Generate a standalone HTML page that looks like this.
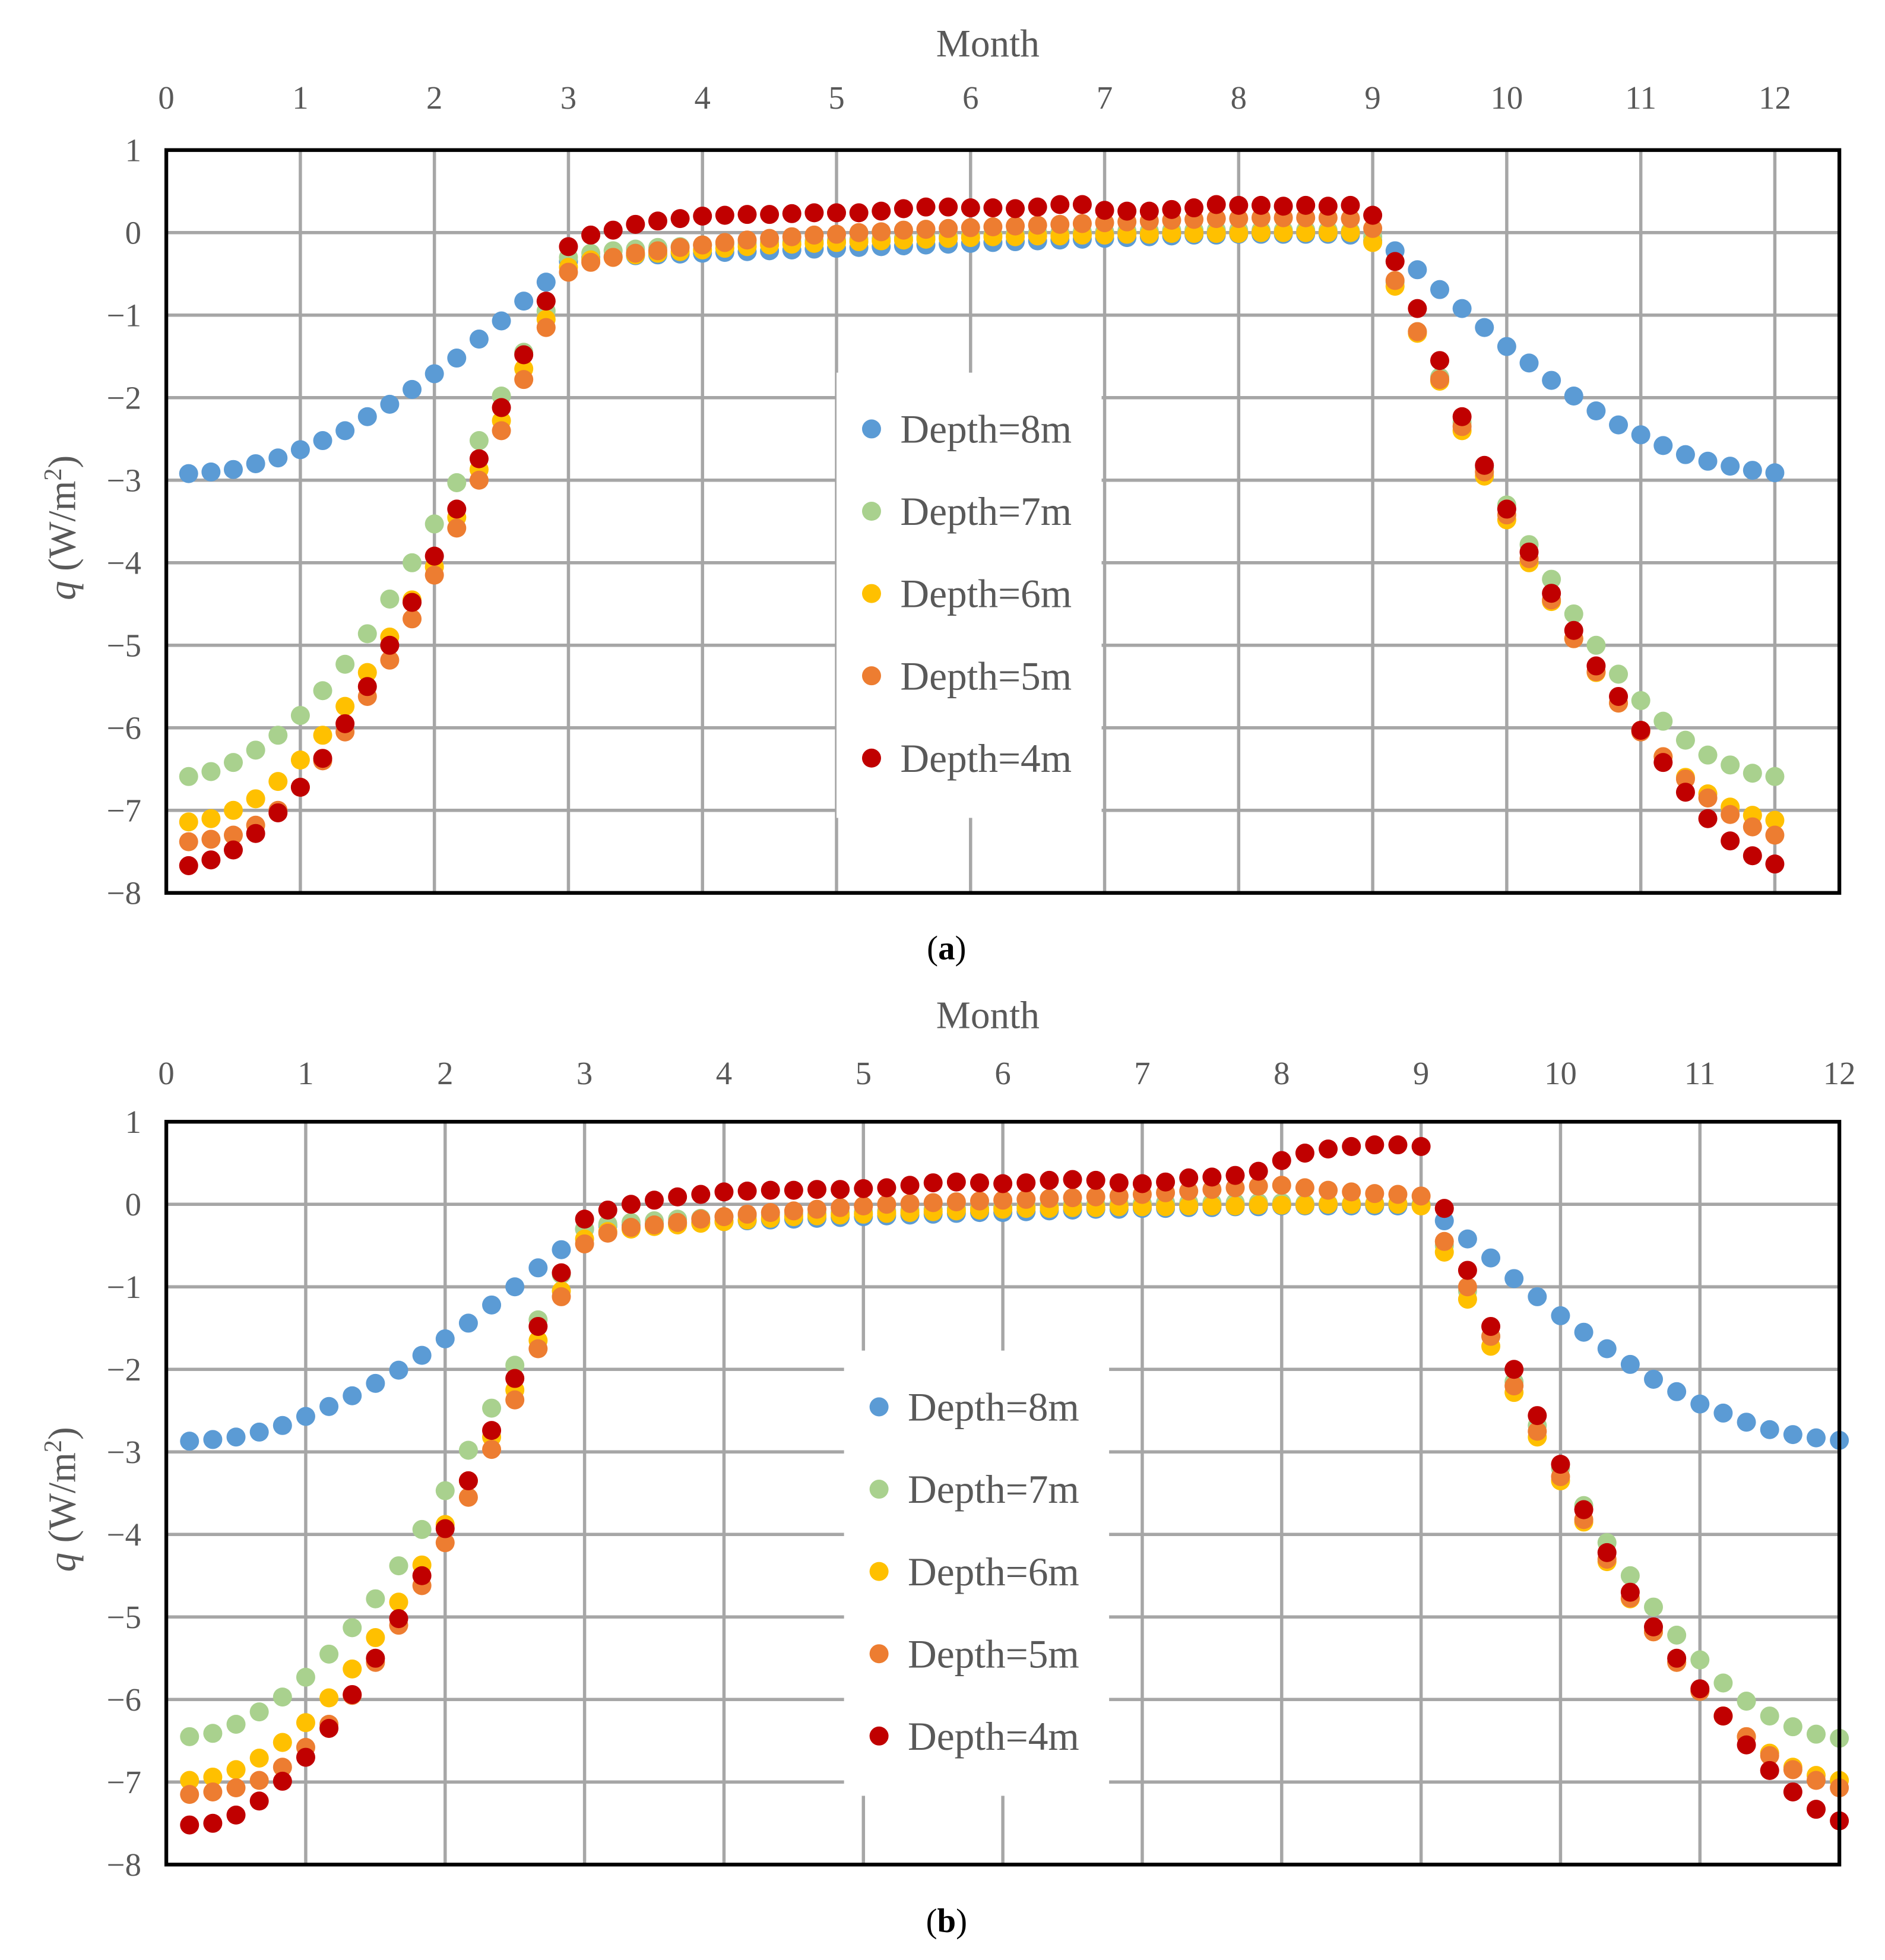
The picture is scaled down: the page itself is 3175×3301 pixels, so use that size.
<!DOCTYPE html>
<html><head><meta charset="utf-8"><style>
html,body{margin:0;padding:0;background:#fff;}
svg{display:block;}
text{font-family:"Liberation Serif",serif;}
</style></head><body>
<svg id="root" xmlns="http://www.w3.org/2000/svg" width="3175" height="3301" viewBox="0 0 1507.5 1567.3" preserveAspectRatio="none">
<rect x="0" y="0" width="1507.5" height="1567.3" fill="#fff"/>
<g id="chartA"></g>
<g id="chartB"></g>
<text x="757" y="767" font-size="27" text-anchor="middle" fill="#000">(<tspan font-weight="bold">a</tspan>)</text>
<text x="757" y="1545" font-size="27" text-anchor="middle" fill="#000">(<tspan font-weight="bold">b</tspan>)</text>
</svg>
<script>
const seriesNames = ["Depth=8m","Depth=7m","Depth=6m","Depth=5m","Depth=4m"];
const seriesColors = ["#5b9bd5","#a9d18e","#ffc000","#ed7d31","#c00000"];
const xTicks = [0,1,2,3,4,5,6,7,8,9,10,11,12];
const yTicks = [1,0,-1,-2,-3,-4,-5,-6,-7,-8];
const monthStep = 1/6;

const a8 = [-2.92,-2.9,-2.87,-2.8,-2.73,-2.63,-2.52,-2.4,-2.23,-2.08,-1.9,-1.71,-1.52,-1.29,-1.07,-0.83,-0.6,-0.35,
-0.3,-0.29,-0.28,-0.27,-0.26,-0.25,-0.24,-0.23,-0.22,-0.21,-0.2,-0.19,-0.18,-0.17,-0.16,-0.15,-0.14,-0.13,-0.12,-0.11,-0.1,-0.09,-0.08,-0.07,-0.06,-0.05,-0.04,-0.03,-0.03,-0.02,-0.02,-0.02,-0.02,-0.02,-0.03,-0.1,
-0.22,-0.45,-0.69,-0.92,-1.15,-1.38,-1.58,-1.79,-1.98,-2.16,-2.33,-2.45,-2.58,-2.69,-2.77,-2.83,-2.88,-2.91];
const a7 = [-6.59,-6.53,-6.42,-6.27,-6.09,-5.85,-5.55,-5.23,-4.86,-4.44,-4.0,-3.53,-3.03,-2.52,-1.98,-1.45,-0.95,-0.3,
-0.25,-0.22,-0.2,-0.18,-0.17,-0.15,-0.14,-0.13,-0.12,-0.11,-0.1,-0.09,-0.08,-0.07,-0.06,-0.05,-0.04,-0.03,-0.02,-0.01,0,0,0.01,0.01,0.02,0.02,0.03,0.03,0.03,0.03,0.03,0.03,0.03,0.03,0.02,-0.05,
-0.6,-1.2,-1.75,-2.3,-2.85,-3.3,-3.78,-4.2,-4.62,-5.0,-5.35,-5.67,-5.92,-6.15,-6.33,-6.45,-6.55,-6.59];
const a6 = [-7.14,-7.1,-7.0,-6.86,-6.65,-6.39,-6.09,-5.74,-5.33,-4.9,-4.45,-4.05,-3.45,-2.87,-2.28,-1.65,-1.05,-0.42,
-0.33,-0.3,-0.27,-0.25,-0.23,-0.21,-0.19,-0.17,-0.15,-0.14,-0.13,-0.12,-0.11,-0.1,-0.09,-0.08,-0.07,-0.06,-0.05,-0.05,-0.04,-0.04,-0.03,-0.03,-0.02,-0.02,-0.01,-0.01,-0.01,-0.01,0,0,0,0,0,-0.12,
-0.65,-1.22,-1.8,-2.4,-2.95,-3.48,-4.0,-4.47,-4.92,-5.33,-5.7,-6.03,-6.35,-6.6,-6.8,-6.96,-7.06,-7.12];
const a5 = [-7.38,-7.35,-7.3,-7.18,-7.0,-6.72,-6.4,-6.05,-5.62,-5.18,-4.68,-4.15,-3.58,-3.0,-2.4,-1.78,-1.15,-0.48,
-0.36,-0.3,-0.25,-0.22,-0.18,-0.15,-0.12,-0.09,-0.07,-0.05,-0.03,-0.02,0,0.01,0.03,0.04,0.05,0.06,0.07,0.08,0.09,0.1,0.11,0.12,0.13,0.14,0.15,0.16,0.17,0.17,0.18,0.18,0.18,0.18,0.17,0.05,
-0.58,-1.2,-1.78,-2.35,-2.9,-3.42,-3.95,-4.45,-4.92,-5.32,-5.7,-6.05,-6.35,-6.62,-6.85,-7.05,-7.2,-7.3];
const a4 = [-7.67,-7.6,-7.48,-7.28,-7.03,-6.72,-6.37,-5.95,-5.5,-5.0,-4.48,-3.92,-3.35,-2.74,-2.12,-1.48,-0.83,-0.17,
-0.03,0.03,0.1,0.14,0.17,0.2,0.21,0.22,0.22,0.23,0.24,0.24,0.24,0.26,0.29,0.31,0.31,0.3,0.3,0.29,0.31,0.34,0.34,0.27,0.26,0.26,0.28,0.3,0.34,0.33,0.33,0.32,0.33,0.32,0.33,0.21,
-0.35,-0.92,-1.55,-2.23,-2.82,-3.35,-3.87,-4.37,-4.82,-5.25,-5.62,-6.03,-6.42,-6.78,-7.1,-7.37,-7.55,-7.65];

const b8 = [-2.87,-2.85,-2.82,-2.76,-2.68,-2.57,-2.45,-2.32,-2.17,-2.01,-1.83,-1.63,-1.44,-1.22,-1.0,-0.77,-0.55,-0.3,
-0.26,-0.25,-0.24,-0.23,-0.22,-0.21,-0.2,-0.19,-0.18,-0.17,-0.16,-0.15,-0.14,-0.13,-0.12,-0.11,-0.1,-0.1,-0.09,-0.08,-0.07,-0.06,-0.06,-0.05,-0.05,-0.04,-0.04,-0.03,-0.03,-0.02,-0.02,-0.02,-0.02,-0.02,-0.02,0,
-0.2,-0.42,-0.65,-0.9,-1.12,-1.35,-1.55,-1.75,-1.94,-2.12,-2.27,-2.42,-2.53,-2.64,-2.73,-2.79,-2.83,-2.86];
const b7 = [-6.45,-6.41,-6.3,-6.15,-5.97,-5.73,-5.45,-5.13,-4.78,-4.38,-3.94,-3.47,-2.98,-2.47,-1.95,-1.4,-0.85,-0.3,
-0.24,-0.22,-0.2,-0.18,-0.17,-0.15,-0.14,-0.13,-0.12,-0.11,-0.1,-0.09,-0.08,-0.07,-0.06,-0.05,-0.04,-0.03,-0.02,-0.01,0,0,0.01,0.01,0.02,0.02,0.02,0.02,0.02,0.02,0.01,0.01,0.01,0.01,0.01,0,
-0.5,-1.05,-1.6,-2.15,-2.68,-3.2,-3.65,-4.1,-4.5,-4.88,-5.22,-5.52,-5.8,-6.02,-6.2,-6.33,-6.42,-6.47];
const b6 = [-6.98,-6.94,-6.85,-6.71,-6.52,-6.28,-5.98,-5.63,-5.25,-4.82,-4.37,-3.88,-3.35,-2.82,-2.25,-1.65,-1.05,-0.42,
-0.33,-0.3,-0.27,-0.25,-0.23,-0.21,-0.19,-0.17,-0.15,-0.14,-0.13,-0.12,-0.11,-0.1,-0.09,-0.08,-0.07,-0.06,-0.05,-0.05,-0.04,-0.04,-0.03,-0.03,-0.03,-0.02,-0.02,-0.02,-0.01,-0.01,-0.01,0,0,0,0,-0.02,
-0.58,-1.15,-1.72,-2.28,-2.82,-3.35,-3.85,-4.33,-4.78,-5.18,-5.55,-5.9,-6.2,-6.45,-6.65,-6.82,-6.92,-6.98];
const b5 = [-7.15,-7.12,-7.07,-6.98,-6.82,-6.58,-6.3,-5.95,-5.55,-5.1,-4.62,-4.1,-3.55,-2.97,-2.37,-1.75,-1.12,-0.48,
-0.35,-0.28,-0.25,-0.22,-0.18,-0.15,-0.12,-0.1,-0.08,-0.06,-0.04,-0.02,0,0.01,0.02,0.03,0.04,0.05,0.06,0.07,0.08,0.09,0.1,0.12,0.14,0.16,0.18,0.2,0.22,0.23,0.2,0.17,0.15,0.13,0.12,0.1,
-0.45,-1.0,-1.6,-2.2,-2.75,-3.3,-3.82,-4.3,-4.77,-5.18,-5.55,-5.9,-6.2,-6.45,-6.68,-6.85,-6.98,-7.07];
const b4 = [-7.52,-7.5,-7.4,-7.23,-6.99,-6.7,-6.35,-5.94,-5.5,-5.02,-4.5,-3.93,-3.35,-2.74,-2.11,-1.48,-0.83,-0.18,
-0.07,0.0,0.05,0.09,0.12,0.15,0.16,0.17,0.17,0.18,0.18,0.19,0.2,0.23,0.26,0.27,0.26,0.25,0.26,0.29,0.3,0.29,0.26,0.25,0.27,0.32,0.33,0.35,0.4,0.53,0.62,0.67,0.7,0.72,0.72,0.7,
-0.05,-0.8,-1.48,-2.0,-2.56,-3.15,-3.7,-4.22,-4.7,-5.12,-5.5,-5.87,-6.2,-6.55,-6.86,-7.12,-7.33,-7.47];

const NS = "http://www.w3.org/2000/svg";
function mk(parent, tag, attrs, text){
  const el = document.createElementNS(NS, tag);
  for (const k in attrs) el.setAttribute(k, attrs[k]);
  if (text !== undefined) el.textContent = text;
  parent.appendChild(el);
  return el;
}

function drawChart(g, cfg, series){
  const L=133, R=1471, T=cfg.top, B=cfg.top+594;
  const xs = m => L + m*cfg.pxPerMonth;
  const ys = v => T + (1 - v)*(B-T)/9;
  for (const t of xTicks){
    if (t===0) continue;
    const x = xs(t); if (x>=R) continue;
    const gl = mk(g,'line',{x1:x,y1:T,x2:x,y2:B,stroke:'#a6a6a6','stroke-width':2.6});
    
    
  }
  for (const t of yTicks){
    if (t===1 || t===-8) continue;
    const y = ys(t);
    const gl = mk(g,'line',{x1:L,y1:y,x2:R,y2:y,stroke:'#a6a6a6','stroke-width':2.6});
    
    
  }
  const lb = mk(g,'rect',{x:cfg.legX-28,y:cfg.legY-45,width:212,height:356,fill:'#fff'});
  
  
  for (let s=0;s<series.length;s++){
    const sg = mk(g,'g',{});
    
    
    series[s].forEach((v,i)=>{
      const c = mk(sg,'circle',{cx:xs((i+1)*monthStep),cy:ys(v),r:7.6,fill:seriesColors[s]});
      
      
    });
  }
  const bd = mk(g,'rect',{x:L,y:T,width:R-L,height:B-T,fill:'none',stroke:'#000','stroke-width':3});
  
  
  for (const t of xTicks){
    const x = xs(t); if (x>R+5) continue;
    const tx = mk(g,'text',{x:x,y:cfg.tickY,'font-size':26,'text-anchor':'middle',fill:'#595959'},String(t));
    
    
  }
  for (const t of yTicks){
    const tx = mk(g,'text',{x:113,y:ys(t)+9,'font-size':26,'text-anchor':'end',fill:'#595959'},t<0?'\u2212'+(-t):String(t));
    
    
  }
  const xt = mk(g,'text',{x:790,y:cfg.titleY,'font-size':31,'text-anchor':'middle',fill:'#595959'},'Month');
  
  
  const cy = (T+B)/2 + 5;
  const yt = mk(g,'text',{x:0,y:0,'font-size':31,'text-anchor':'middle',fill:'#595959',transform:'translate(60,'+cy+') rotate(-90)'});
  
  
  mk(yt,'tspan',{'font-style':'italic'},'q');
  mk(yt,'tspan',{},' (W/m');
  mk(yt,'tspan',{'font-size':20,dy:-11},'2');
  mk(yt,'tspan',{dy:11},')');
  for (let s=0;s<seriesNames.length;s++){
    const y = cfg.legY + s*65.8;
    const lg = mk(g,'g',{});
    
    
    mk(lg,'circle',{cx:cfg.legX,cy:y,r:7.6,fill:seriesColors[s]});
    mk(lg,'text',{x:cfg.legX+23,y:y+11,'font-size':32,fill:'#595959'},seriesNames[s]);
  }
}

drawChart(document.getElementById('chartA'),{top:120,pxPerMonth:107.2,legX:697,legY:343,tickY:87,titleY:45},[a8,a7,a6,a5,a4]);
drawChart(document.getElementById('chartB'),{top:897,pxPerMonth:111.5,legX:703,legY:1125,tickY:867,titleY:822},[b8,b7,b6,b5,b4]);
</script>
</body></html>
